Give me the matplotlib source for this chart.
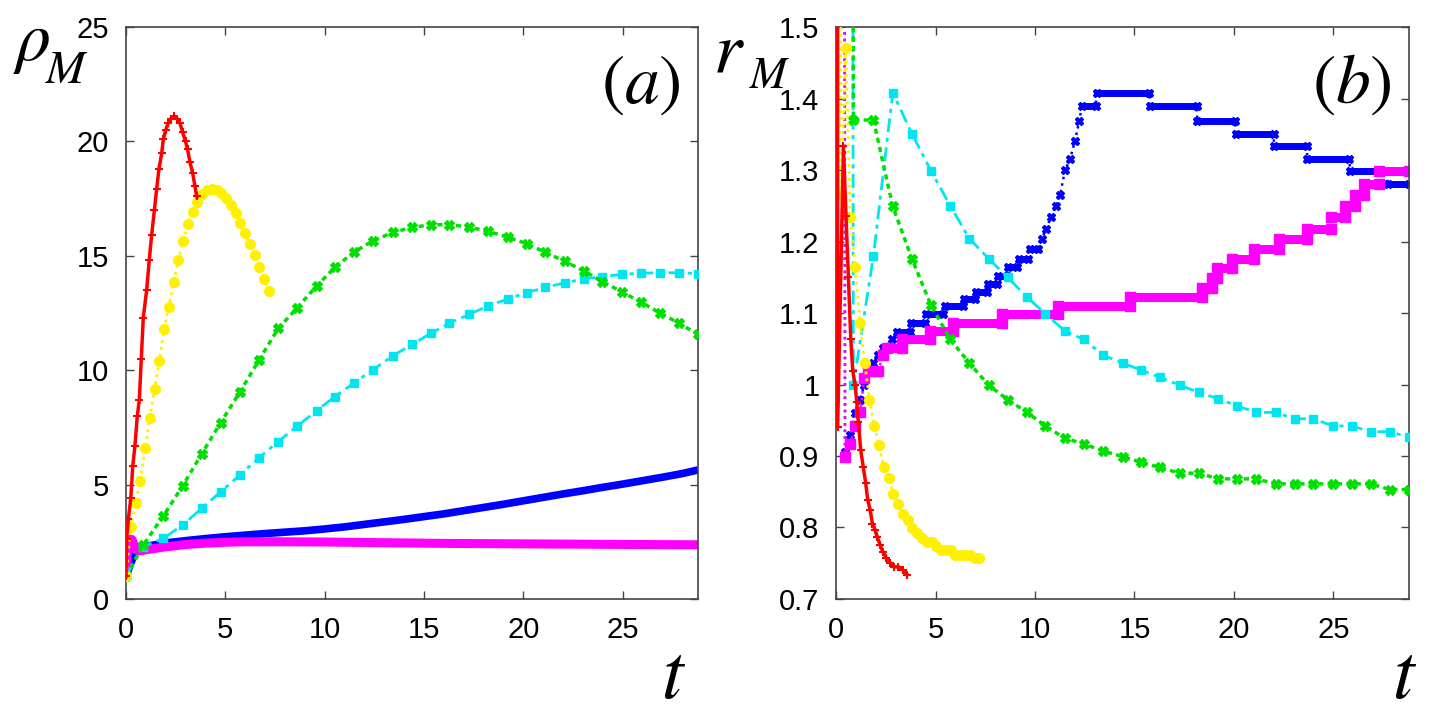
import numpy as np
import matplotlib
matplotlib.use("Agg")
import matplotlib.pyplot as plt

plt.rcParams["font.family"] = ["Liberation Sans", "DejaVu Sans"]
plt.rcParams["mathtext.fontset"] = "stix"

# ---------------- data ----------------
# shared time grid of the green / cyan runs
t_slow = [0, 0.87, 1.88, 2.85, 3.81, 4.77, 5.74, 6.7, 7.67, 8.62, 9.6, 10.52, 11.49,
          12.45, 13.42, 14.41, 15.35, 16.27, 17.28, 18.23, 19.21, 20.17, 21.12,
          22.09, 23.05, 23.99, 24.98, 25.92, 26.87, 27.85, 28.8]
# time grid of the yellow run
t_yel = [0, 0.24, 0.48, 0.72, 0.96, 1.2, 1.44, 1.68, 1.92, 2.16, 2.4, 2.64, 2.88,
         3.12, 3.36, 3.6, 3.84, 4.08, 4.32, 4.56, 4.8, 5.04, 5.28, 5.52, 5.76, 6.0,
         6.24, 6.48, 6.72, 6.96, 7.2]

# panel (a): rho_M
red_a_t = [0, 0.03, 0.12, 0.24, 0.34, 0.45, 0.57, 0.67, 0.77, 0.87, 1.04, 1.17, 1.29,
           1.43, 1.54, 1.66, 1.8, 1.88, 2.0, 2.13, 2.26, 2.42, 2.58, 2.72, 2.85, 3.0,
           3.1, 3.22, 3.36, 3.47, 3.56]
red_a = [1.0, 2.6, 3.5, 4.4, 5.8, 6.7, 8.0, 8.7, 10.5, 12.3, 13.5, 14.8, 15.9, 17.0,
         17.9, 18.8, 19.5, 20.1, 20.5, 20.8, 21.0, 21.1, 21.0, 20.8, 20.4, 20.0,
         19.65, 19.1, 18.6, 18.05, 17.6]
yel_a = [1.0, 3.13, 4.21, 5.17, 6.59, 7.9, 9.2, 10.4, 11.8, 12.78, 13.87, 14.82,
         15.65, 16.37, 16.93, 17.37, 17.7, 17.88, 17.93, 17.88, 17.73, 17.51, 17.22,
         16.86, 16.42, 15.98, 15.5, 15.02, 14.5, 13.97, 13.46]
grn_a = [1.0, 2.36, 3.63, 4.94, 6.34, 7.71, 9.05, 10.45, 11.83, 12.73, 13.68, 14.5,
         15.17, 15.66, 16.02, 16.24, 16.36, 16.36, 16.26, 16.07, 15.82, 15.53, 15.15,
         14.76, 14.34, 13.87, 13.42, 12.98, 12.51, 12.05, 11.57]
cyn_a = [1.0, 2.29, 2.65, 3.23, 3.96, 4.69, 5.42, 6.18, 6.88, 7.56, 8.23, 8.85, 9.45,
         10.03, 10.62, 11.13, 11.61, 12.05, 12.44, 12.81, 13.11, 13.39, 13.62, 13.82,
         13.99, 14.09, 14.19, 14.24, 14.26, 14.26, 14.22]
blu_a_t = [0, 0.5, 1, 2, 3, 4, 5, 6, 7, 8, 9, 10, 11, 12, 13, 14, 15, 16, 17, 18, 19,
           20, 21, 22, 23, 24, 25, 26, 27, 28, 28.8]
blu_a = [1.0, 2.15, 2.3, 2.45, 2.55, 2.64, 2.72, 2.79, 2.86, 2.92, 2.98, 3.06, 3.15,
         3.26, 3.37, 3.48, 3.6, 3.72, 3.86, 4.0, 4.14, 4.29, 4.44, 4.59, 4.73, 4.88,
         5.02, 5.17, 5.32, 5.48, 5.64]
mag_a_t = [0, 0.1, 0.3, 0.5, 0.7, 1, 2, 3, 4, 5, 6, 8, 10, 12, 14, 16, 18, 20, 22,
           24, 26, 28.8]
mag_a = [1.0, 2.6, 2.6, 2.15, 2.1, 2.15, 2.28, 2.38, 2.44, 2.48, 2.5, 2.5, 2.49,
         2.47, 2.45, 2.43, 2.42, 2.41, 2.4, 2.39, 2.38, 2.37]

# panel (b): r_M  (value 20 at t=0 is far above the frame)
red_b_t = [0, 0.08, 0.37, 0.5, 0.62, 0.74, 0.84, 0.96, 1.04, 1.12, 1.24, 1.37, 1.49,
           1.59, 1.71, 1.83, 1.96, 2.08, 2.21, 2.35, 2.51, 2.71, 2.92, 3.13, 3.35, 3.59]
red_b = [20, 0.94, 1.333, 1.235, 1.15, 1.063, 1.019, 0.999, 0.975, 0.948, 0.908,
         0.884, 0.862, 0.839, 0.825, 0.805, 0.797, 0.786, 0.776, 0.766, 0.758, 0.751,
         0.745, 0.745, 0.741, 0.734]
yel_b = [20, 1.265, 1.47, 1.234, 1.164, 1.086, 1.03, 0.979, 0.942, 0.916, 0.884,
         0.869, 0.847, 0.833, 0.819, 0.811, 0.799, 0.792, 0.785, 0.78, 0.78, 0.774,
         0.768, 0.768, 0.768, 0.762, 0.762, 0.762, 0.762, 0.757, 0.757]
grn_b = [20, 1.37, 1.37, 1.249, 1.176, 1.111, 1.063, 1.03, 0.999, 0.979, 0.961,
         0.942, 0.925, 0.917, 0.907, 0.899, 0.891, 0.884, 0.876, 0.876, 0.868, 0.868,
         0.868, 0.861, 0.861, 0.861, 0.861, 0.861, 0.861, 0.853, 0.853]
cyn_b = [20, 0.999, 1.18, 1.408, 1.351, 1.299, 1.25, 1.204, 1.176, 1.15, 1.122,
         1.099, 1.075, 1.063, 1.041, 1.03, 1.02, 1.01, 0.999, 0.989, 0.98, 0.97,
         0.961, 0.961, 0.952, 0.952, 0.942, 0.942, 0.934, 0.934, 0.926]
# stepped runs: plateaus appear as repeated values
blu_b_t = [0, 0.45, 0.7, 0.96, 1.21, 1.42, 1.68, 1.88, 2.13, 2.38, 2.8,
           3.05, 3.72, 3.75, 4.47, 4.5, 5.4, 5.48, 6.4, 6.45, 7.0, 7.05, 7.6, 7.65,
           8.1, 8.15, 8.6, 8.65, 9.1, 9.2, 9.65, 9.75, 10.17,
           10.34, 10.56, 10.8, 11.06, 11.26, 11.51, 11.76, 12.0, 12.23,
           12.35, 13.05, 13.1, 15.75, 15.78, 18.13, 18.16, 20.06, 20.09, 21.99,
           22.02, 23.66, 23.69, 25.8, 25.83, 27.7, 27.73, 28.8]
blu_b = [20, 0.905, 0.93, 0.96, 0.979, 0.999, 1.02, 1.03, 1.041, 1.051, 1.063,
         1.074, 1.074, 1.086, 1.086, 1.099, 1.099, 1.11, 1.11, 1.12, 1.12, 1.13, 1.13,
         1.14, 1.14, 1.152, 1.152, 1.164, 1.164, 1.175, 1.175, 1.189, 1.189,
         1.204, 1.218, 1.234, 1.25, 1.265, 1.3, 1.315, 1.34, 1.369,
         1.39, 1.39, 1.408, 1.408, 1.389, 1.389, 1.369, 1.369, 1.351, 1.351,
         1.333, 1.333, 1.315, 1.315, 1.298, 1.298, 1.281, 1.281]
mag_b_t = [0, 0.45, 0.7, 0.96, 1.21, 1.42, 1.6, 2.1, 2.38, 2.55, 3.3, 3.3, 4.7, 4.7,
           5.9, 5.9, 8.33, 8.33, 11.18, 11.18, 14.78, 14.78, 18.38, 18.38, 18.9, 18.9,
           19.14, 19.14, 19.9, 19.9, 21.0, 21.0, 22.25, 22.25, 23.65, 23.65, 24.88,
           24.88, 25.6, 25.6, 26.08, 26.08, 26.55, 26.55, 27.3, 27.3, 28.8]
mag_b = [20, 0.899, 0.917, 0.942, 0.961, 1.009, 1.019, 1.019, 1.041, 1.051, 1.051,
         1.063, 1.063, 1.075, 1.075, 1.086, 1.086, 1.099, 1.099, 1.11, 1.11, 1.123,
         1.123, 1.135, 1.135, 1.149, 1.149, 1.163, 1.163, 1.176, 1.176, 1.19, 1.19,
         1.203, 1.203, 1.218, 1.218, 1.234, 1.234, 1.25, 1.25, 1.265, 1.265, 1.281,
         1.281, 1.299, 1.299]

# ---------------- styles ----------------
RED, YEL, GRN, CYN, BLU, MAG = "#ff0000", "#fff000", "#00e000", "#00e6f0", "#0000ff", "#ff00ff"


def thick_steps(ax, t, r, color, lw, z):
    # draw plateaus (equal neighbouring values) as a thick band
    for i in range(len(t) - 1):
        if r[i] == r[i + 1]:
            ax.plot([t[i], t[i + 1]], [r[i], r[i]], color=color, lw=lw,
                    solid_capstyle="projecting", zorder=z)


def style_axes(ax, xlim, ylim, yticks, ylabels):
    ax.set_xlim(*xlim)
    ax.set_ylim(*ylim)
    ax.set_xticks([0, 5, 10, 15, 20, 25])
    ax.set_yticks(yticks)
    ax.set_yticklabels(ylabels)
    ax.tick_params(direction="in", length=6, width=1.0, color="#444444",
                   labelsize=21, top=True, right=True, pad=12)
    for s in ax.spines.values():
        s.set_color("#444444")
        s.set_linewidth(1.2)


fig = plt.figure(figsize=(14.4, 7.17), dpi=100)
axa = fig.add_axes([0.0875, 0.1646, 0.3972, 0.7977])
axb = fig.add_axes([0.5806, 0.1646, 0.3979, 0.7977])

# ---- panel (a)
axa.plot(blu_a_t, blu_a, color=BLU, lw=5.5, zorder=1, solid_capstyle="butt")
axa.plot(mag_a_t, mag_a, color=MAG, lw=6.5, zorder=2, solid_capstyle="butt")
axa.plot(t_slow, cyn_a, color=CYN, lw=2, dashes=(5, 2, 1.5, 2), marker="s", ms=5.5, zorder=3)
axa.plot(t_slow, grn_a, color=GRN, lw=2.5, dashes=(1.5, 1.2), marker="X", ms=7, zorder=4)
axa.plot(t_yel, yel_a, color=YEL, lw=2, dashes=(1, 1.5), marker="o", ms=8,
         markeredgewidth=0, zorder=5)
axa.plot(red_a_t, red_a, color=RED, lw=2.5, marker="+", ms=6, mew=1.5, zorder=6)
style_axes(axa, (0, 28.8), (0, 25), [0, 5, 10, 15, 20, 25],
           ["0", "5", "10", "15", "20", "25"])

# ---- panel (b)
axb.plot(blu_b_t, blu_b, color=BLU, lw=1.8, ls=":", marker="X", ms=6, zorder=1)
thick_steps(axb, blu_b_t, blu_b, BLU, 5, 1)
axb.plot(mag_b_t, mag_b, color=MAG, lw=1.8, ls=":", marker="s", ms=7, zorder=2)
thick_steps(axb, mag_b_t, mag_b, MAG, 6.5, 2)
axb.plot(t_slow, cyn_b, color=CYN, lw=2, dashes=(5, 2, 1.5, 2), marker="s", ms=5.5, zorder=3)
axb.plot(t_slow, grn_b, color=GRN, lw=2.5, dashes=(1.5, 1.2), marker="X", ms=7, zorder=4)
axb.plot(t_yel, yel_b, color=YEL, lw=2, dashes=(1, 1.5), marker="o", ms=8,
         markeredgewidth=0, zorder=5)
axb.plot(red_b_t, red_b, color=RED, lw=2.5, marker="+", ms=6, mew=1.5, zorder=6)
style_axes(axb, (0, 28.8), (0.7, 1.5), [0.7, 0.8, 0.9, 1.0, 1.1, 1.2, 1.3, 1.4, 1.5],
           ["0.7", "0.8", "0.9", "1", "1.1", "1.2", "1.3", "1.4", "1.5"])

# ---- labels (symbol and subscript placed separately, subscript set low)
fig.text(0.009, 0.916, r"$\rho$", fontsize=50, va="baseline")
fig.text(0.031, 0.884, r"$M$", fontsize=34, va="baseline")
fig.text(0.495, 0.900, r"$r$", fontsize=52, va="baseline")
fig.text(0.520, 0.877, r"$M$", fontsize=32, va="baseline")
fig.text(0.459, 0.027, r"$t$", fontsize=56)
fig.text(0.967, 0.027, r"$t$", fontsize=56)
axa.text(0.97, 0.955, r"$(a)$", transform=axa.transAxes, fontsize=50,
         ha="right", va="top")
axb.text(0.97, 0.955, r"$(b)$", transform=axb.transAxes, fontsize=50,
         ha="right", va="top")

plt.savefig("out.png", dpi=100)
